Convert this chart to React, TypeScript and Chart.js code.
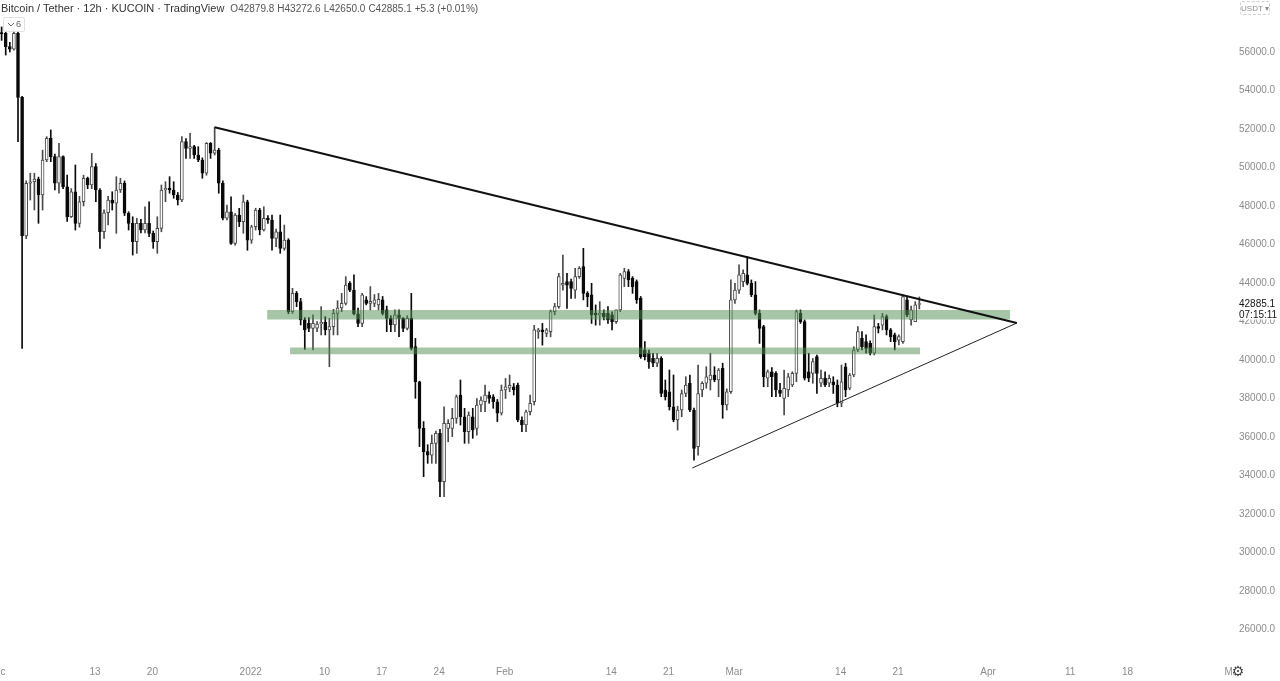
import React, { useEffect, useRef } from "react";
import { Chart, registerables } from "chart.js";

Chart.register(...registerables);

// ---- data (12h candles, BTC/USDT KuCoin) ----
const START_DAY = 0.6; // days since 1 Dec 2021 of the first visible candle
const CANDLE_STEP = 0.5; // 12 hours

const opens = [
  57000, 56970, 56280, 56150, 56970, 53640, 46440, 49180, 49260, 49400,
  48570, 50390, 51510, 50560, 49180, 50560, 49000, 47440, 48740, 47100,
  48220, 49440, 49090, 50040, 48830, 46660, 47650, 48310, 48140, 48830,
  49180, 47620, 47100, 46140, 47100, 46750, 47100, 46580, 46140, 46840,
  48830, 48920, 48830, 48570, 48310, 51340, 50990, 51080, 50650, 50390,
  49700, 51250, 50740, 50900, 49180, 47360, 47700, 46060, 47530, 47190,
  48220, 46230, 46920, 47790, 46750, 47360, 47270, 46320, 46660, 45800,
  46230, 42510, 43460, 43030, 42080, 41900, 41640, 41650, 41870, 41950,
  41560, 41730, 42420, 42700, 42940, 43980, 43630, 42400, 41900, 43120,
  42940, 42940, 42860, 43120, 42600, 42160, 41820, 42340, 42160, 41640,
  42160, 40690, 38870, 36450, 35240, 35060, 35670, 36190, 33680, 36450,
  36450, 36970, 38180, 37050, 36270, 37050, 36450, 37660, 37830, 38180,
  38090, 37830, 37230, 38440, 38530, 38610, 38700, 36880, 36620, 37310,
  37830, 41470, 41560, 41380, 41470, 42510, 42770, 43890, 44070, 44070,
  43630, 44330, 44850, 43460, 43380, 42420, 42340, 42420, 42420, 42340,
  41990, 42600, 44240, 44590, 44240, 44070, 43200, 40520, 40350, 40080,
  39830, 40080, 38440, 38350, 37570, 36880, 37400, 38260, 38790, 37400,
  35500, 38440, 38790, 38960, 39220, 38960, 39560, 37660, 38350, 43120,
  43630, 44070, 44420, 43980, 43380, 42420, 41730, 39050, 39390, 39300,
  38440, 38000, 38440, 38700, 39300, 42420, 41990, 39390, 39300, 40170,
  38790, 39050, 38790, 38870, 38700, 37750, 39650, 38530, 39220, 40520,
  41120, 40950, 40860, 40350, 41730, 41810, 42250, 41560, 41300, 41030,
  40950, 43120, 42080, 41990, 42879.8,
];
const highs = [
  57300, 57140, 56500, 57150, 57100, 53700, 49300, 49700, 49700, 49500,
  50900, 51600, 51950, 50700, 51250, 50600, 49610, 48900, 50130, 48500,
  49600, 49500, 50730, 50200, 48900, 47800, 48500, 48740, 49520, 49440,
  49300, 47700, 47440, 47360, 47300, 47960, 48220, 46700, 47440, 49090,
  49260, 49520, 49260, 48700, 51600, 51500, 51770, 51150, 51080, 50500,
  51300, 51300, 52090, 51000, 49300, 48050, 48480, 47600, 47880, 48570,
  48300, 47000, 47880, 47880, 47960, 47500, 47530, 46800, 47530, 47010,
  46300, 43720, 43560, 43200, 42200, 42200, 42340, 42000, 42770, 42250,
  42160, 42630, 43080, 43460, 44330, 44070, 44420, 42700, 43460, 43290,
  43810, 43400, 43460, 43300, 42800, 42300, 42600, 42600, 42200, 42300,
  43460, 41120, 38900, 36800, 35600, 36100, 36300, 36400, 37570, 36900,
  37490, 38180, 38960, 37490, 37300, 37490, 38000, 38090, 38700, 38350,
  38200, 37950, 38700, 39040, 39220, 38780, 38800, 37050, 37400, 38180,
  41800, 41640, 41900, 41640, 42600, 42940, 44500, 45450, 44500, 44200,
  44760, 44850, 45800, 43550, 43980, 42860, 43030, 42600, 42770, 42500,
  42600, 44500, 44760, 44700, 44330, 44160, 43300, 40950, 40520, 40350,
  40350, 40170, 38960, 39480, 39220, 37600, 38440, 39130, 39220, 37500,
  39740, 38870, 39650, 40350, 39650, 39560, 39830, 38500, 44160, 43980,
  44940, 44680, 45370, 44160, 44070, 42600, 41800, 39480, 39600, 39400,
  38790, 39480, 39300, 39390, 42600, 42600, 42080, 40350, 40080, 40260,
  39480, 39390, 39220, 39130, 38960, 39740, 39830, 39300, 40690, 41730,
  41470, 41300, 41000, 42340, 41900, 42420, 42340, 41640, 41400, 41300,
  43380, 43290, 42800, 43030, 43272.6,
];
const lows = [
  56600, 55840, 56000, 56100, 51340, 40600, 46300, 48310, 47790, 47100,
  47790, 50300, 50300, 48830, 48660, 48900, 47200, 47400, 46750, 46900,
  48000, 48900, 48900, 48220, 45800, 46320, 47010, 47790, 46580, 48700,
  47500, 46750, 45450, 45540, 46600, 46600, 46400, 45800, 45540, 46660,
  48220, 48660, 48400, 48050, 48220, 50470, 50470, 50470, 50300, 49440,
  49600, 50470, 50650, 48660, 47270, 47270, 46000, 45970, 46930, 46580,
  45700, 46060, 46750, 46500, 46700, 47100, 45700, 45880, 45540, 45700,
  42400, 42420, 42770, 41820, 40550, 41470, 40520, 41470, 41300, 41300,
  39650, 41300, 41300, 42510, 42860, 43550, 42340, 41730, 41730, 42860,
  42600, 42770, 42600, 42340, 41470, 41470, 41470, 41210, 41470, 41560,
  40520, 38010, 35500, 33940, 34630, 34630, 34630, 32900, 32900, 35750,
  36020, 36710, 36620, 35670, 35670, 35930, 36100, 37310, 37310, 37750,
  37490, 36800, 37140, 38000, 38350, 38180, 36790, 36270, 36270, 37140,
  37660, 41120, 40770, 41210, 41200, 42340, 42680, 43630, 42680, 43200,
  43200, 44240, 43120, 42770, 41900, 41810, 41810, 42080, 41900, 41560,
  41900, 42510, 43810, 43810, 43460, 42940, 40080, 40000, 39560, 39650,
  39650, 38090, 37920, 37400, 36790, 36360, 37050, 38090, 37310, 34800,
  35060, 38090, 38530, 38440, 38870, 38090, 36970, 37400, 38260, 42940,
  43460, 43810, 43900, 43290, 42340, 40860, 38610, 38610, 38090, 38090,
  38090, 37140, 38090, 38610, 38870, 41900, 38960, 38870, 38790, 38260,
  38610, 38610, 38610, 38260, 37570, 37570, 38090, 38450, 39130, 40430,
  40520, 40350, 40260, 40260, 41400, 41560, 41300, 40950, 40520, 40780,
  40860, 42250, 41810, 41990, 42650.0,
];
const closes = [
  56950, 56280, 56150, 56970, 53640, 46440, 49180, 49260, 49400, 48570,
  50390, 51510, 50560, 49180, 50560, 49000, 47440, 48740, 47100, 48220,
  49440, 49090, 50040, 48830, 46660, 47650, 48310, 48140, 48830, 49180,
  47620, 47100, 46140, 47100, 46750, 47100, 46580, 46140, 46840, 48830,
  48920, 48830, 48570, 48310, 51340, 50990, 51080, 50650, 50390, 49700,
  51250, 50740, 50900, 49180, 47360, 47700, 46060, 47530, 47190, 48220,
  46230, 46920, 47790, 46750, 47360, 47270, 46320, 46660, 45800, 46230,
  42510, 43460, 43030, 42080, 41560, 41640, 41900, 41870, 41950, 41560,
  41730, 42420, 42700, 42940, 43890, 43630, 42400, 41900, 43380, 42940,
  43050, 43120, 43150, 42420, 42160, 41820, 42340, 42160, 41640, 42160,
  40600, 38870, 36450, 35240, 35060, 35670, 36190, 33680, 36710, 36710,
  36970, 38090, 37050, 36270, 37140, 36360, 37660, 37920, 38180, 38000,
  37830, 37230, 38440, 38610, 38680, 38440, 36880, 36620, 37310, 37750,
  41560, 41560, 41470, 41560, 42510, 42770, 44330, 43980, 43890, 43720,
  44330, 44760, 43460, 43290, 42340, 42340, 42420, 42250, 42080, 41990,
  42600, 44420, 44590, 44160, 43810, 43120, 40170, 40170, 39910, 39830,
  40080, 38260, 38090, 37570, 36880, 37400, 38260, 38700, 37400, 35410,
  38260, 38790, 39130, 39220, 38960, 39480, 37660, 38350, 43120, 43630,
  44420, 44500, 43980, 43380, 42420, 41640, 39130, 39390, 39130, 38440,
  38260, 38530, 39130, 39300, 42510, 41990, 39050, 39050, 39910, 39300,
  39050, 38700, 39050, 38700, 37750, 38870, 38440, 39220, 40520, 41470,
  40690, 40600, 40350, 41730, 41640, 42250, 41560, 41210, 40950, 41210,
  43290, 42340, 42600, 42860, 42885.1,
];

// x axis: days since 1 Dec 2021 and their labels
const xTickDays = [0, 12, 19, 31, 40, 47, 54, 62, 75, 82, 90, 103, 110, 121, 131, 138, 151];
const xTickLabels = ["Dec", "13", "20", "2022", "10", "17", "24", "Feb", "14", "21", "Mar", "14", "21", "Apr", "11", "18", "May"];
const yTickValues = [26000, 28000, 30000, 32000, 34000, 36000, 38000, 40000, 42000, 44000, 46000, 48000, 50000, 52000, 54000, 56000];

// drawings: [day, price]
const resistancePoints = [[26.6, 52090], [124.5, 41920]];
const supportPoints = [[84.9, 34390], [124.5, 41920]];
const upperZoneDays = [33.0, 123.7];
const upperZonePrices = [42100, 42600];
const lowerZoneDays = [35.8, 112.7];
const lowerZonePrices = [40300, 40650];

const headerTitle = "Bitcoin / Tether · 12h · KUCOIN · TradingView";
const headerOHLC = ["O42879.8", "H43272.6", "L42650.0", "C42885.1", "+5.3 (+0.01%)"];
const countdownText = "07:15:11";

const UP_BORDER = "#4a4a4a";
const DOWN = "#0a0a0a";
const ZONE_COLOR = "rgba(80,140,80,0.5)";
const AXIS_TEXT = "#8c8c8c";
const FONT = "'Liberation Sans', Arial, sans-serif";

export default function App() {
  const canvasRef = useRef<HTMLCanvasElement | null>(null);

  useEffect(() => {
    const canvas = canvasRef.current;
    if (!canvas) return;

    const xs = opens.map((_, i) => START_DAY + i * CANDLE_STEP);
    const isUp = closes.map((c, i) => c >= opens[i]);
    const wickData = xs.map((x, i) => ({ x, y: [lows[i], highs[i]] }));
    const bodyData = xs.map((x, i) => ({ x, y: [opens[i], closes[i]] }));
    const lastClose = closes[closes.length - 1];

    const zone = (days: number[], price: number) => days.map((d) => ({ x: d, y: price }));

    const extras = {
      id: "extras",
      afterDraw(chart: any) {
        const { ctx, chartArea, scales, width, height } = chart;
        ctx.save();
        ctx.fillStyle = "#ffffff";
        ctx.fillRect(chartArea.right + 3, chartArea.bottom, width - chartArea.right - 3, height - chartArea.bottom);
        const y = scales.y.getPixelForValue(lastClose);
        ctx.fillRect(chartArea.right + 1, y - 7, width - chartArea.right - 1, 22);
        ctx.fillStyle = "#131313";
        ctx.font = `10px ${FONT}`;
        ctx.textBaseline = "middle";
        ctx.textAlign = "left";
        ctx.fillText(lastClose.toFixed(1), chartArea.right + 7, y);
        ctx.fillText(countdownText, chartArea.right + 7, y + 11);
        ctx.restore();
      },
    };

    const chart = new Chart(canvas, {
      type: "bar",
      data: {
        datasets: [
          {
            type: "bar",
            data: wickData as any,
            backgroundColor: isUp.map((u) => (u ? UP_BORDER : DOWN)),
            borderWidth: 0,
            barThickness: 1,
            grouped: false,
            order: 5,
          } as any,
          {
            type: "bar",
            data: bodyData as any,
            backgroundColor: isUp.map((u) => (u ? "#ffffff" : DOWN)),
            borderColor: isUp.map((u) => (u ? UP_BORDER : DOWN)),
            borderWidth: 1,
            borderSkipped: false,
            barThickness: 3,
            minBarLength: 1,
            grouped: false,
            order: 4,
          } as any,
          {
            type: "line",
            data: zone(upperZoneDays, upperZonePrices[1]) as any,
            borderWidth: 0,
            pointRadius: 0,
            fill: false,
            order: 3,
          } as any,
          {
            type: "line",
            data: zone(upperZoneDays, upperZonePrices[0]) as any,
            borderWidth: 0,
            pointRadius: 0,
            fill: "-1",
            backgroundColor: ZONE_COLOR,
            order: 3,
          } as any,
          {
            type: "line",
            data: zone(lowerZoneDays, lowerZonePrices[1]) as any,
            borderWidth: 0,
            pointRadius: 0,
            fill: false,
            order: 3,
          } as any,
          {
            type: "line",
            data: zone(lowerZoneDays, lowerZonePrices[0]) as any,
            borderWidth: 0,
            pointRadius: 0,
            fill: "-1",
            backgroundColor: ZONE_COLOR,
            order: 3,
          } as any,
          {
            type: "line",
            data: resistancePoints.map(([x, y]) => ({ x, y })) as any,
            borderColor: "#111111",
            borderWidth: 2,
            pointRadius: 0,
            fill: false,
            order: 1,
          } as any,
          {
            type: "line",
            data: supportPoints.map(([x, y]) => ({ x, y })) as any,
            borderColor: "#222222",
            borderWidth: 1,
            pointRadius: 0,
            fill: false,
            order: 1,
          } as any,
        ],
      },
      options: {
        animation: false,
        responsive: false,
        devicePixelRatio: 1,
        layout: { padding: 0, autoPadding: false } as any,
        plugins: { legend: { display: false }, tooltip: { enabled: false } },
        events: [],
        scales: {
          x: {
            type: "linear",
            offset: false,
            min: 0.403,
            max: 150.76,
            grid: { display: false, drawTicks: false, offset: false },
            border: { display: false },
            afterBuildTicks: (s: any) => {
              s.ticks = xTickDays.map((v) => ({ value: v }));
            },
            afterFit: (s: any) => {
              s.height = 21;
              s.paddingLeft = 0;
              s.paddingRight = 0;
              s.paddingTop = 0;
              s.paddingBottom = 0;
            },
            ticks: {
              autoSkip: false,
              maxRotation: 0,
              minRotation: 0,
              padding: 6,
              color: AXIS_TEXT,
              font: { size: 10, family: FONT },
              callback: (_v: any, i: number) => xTickLabels[i],
            },
          } as any,
          y: {
            type: "linear",
            position: "right",
            min: 24414,
            max: 58700,
            grid: { display: false, drawTicks: false },
            border: { display: false },
            afterBuildTicks: (s: any) => {
              s.ticks = yTickValues.map((v) => ({ value: v }));
            },
            afterFit: (s: any) => {
              s.width = 48;
              s.paddingLeft = 0;
              s.paddingRight = 0;
              s.paddingTop = 0;
              s.paddingBottom = 0;
            },
            ticks: {
              padding: 7,
              color: AXIS_TEXT,
              font: { size: 10, family: FONT },
              callback: (v: any) => Number(v).toFixed(1),
            },
          } as any,
        },
      },
      plugins: [extras],
    });

    return () => chart.destroy();
  }, []);

  return (
    <div
      style={{
        position: "absolute",
        left: 0,
        top: 0,
        width: 1280,
        height: 681,
        background: "#ffffff",
        overflow: "hidden",
        fontFamily: FONT,
      }}
    >
      <canvas ref={canvasRef} width={1280} height={681} style={{ display: "block" }} />
      <div
        style={{
          position: "absolute",
          left: 1,
          top: 1,
          whiteSpace: "nowrap",
          lineHeight: "14px",
          color: "#333",
          fontSize: 11,
        }}
      >
        <span>{headerTitle}</span>
        {headerOHLC.map((t, i) => (
          <span key={i} style={{ fontSize: 10, color: "#555", marginLeft: i === 0 ? 6 : 3 }}>
            {t}
          </span>
        ))}
      </div>
      <div
        style={{
          position: "absolute",
          left: 3,
          top: 17,
          width: 20,
          height: 13,
          border: "1px solid #e0e0e0",
          borderRadius: 2,
          fontSize: 9,
          lineHeight: "13px",
          color: "#666",
          background: "rgba(255,255,255,0.9)",
        }}
      >
        <svg width="8" height="6" style={{ position: "absolute", left: 3, top: 4 }}>
          <polyline points="1,1 4,4 7,1" fill="none" stroke="#666" strokeWidth="1" />
        </svg>
        <span style={{ position: "absolute", left: 12, top: 0 }}>6</span>
      </div>
      <div
        style={{
          position: "absolute",
          left: 1240,
          top: 1,
          width: 30,
          height: 14,
          border: "1px dashed #cfcfcf",
          borderRadius: 2,
          fontSize: 8,
          lineHeight: "14px",
          color: "#8c8c8c",
          textAlign: "center",
          boxSizing: "border-box",
        }}
      >
        USDT ▾
      </div>
      <div
        style={{
          position: "absolute",
          left: 1230,
          top: 663,
          width: 16,
          height: 16,
          fontSize: 14,
          lineHeight: "16px",
          color: "#444",
          textAlign: "center",
          fontFamily: "'DejaVu Sans', sans-serif",
        }}
      >
        ⚙
      </div>
    </div>
  );
}
